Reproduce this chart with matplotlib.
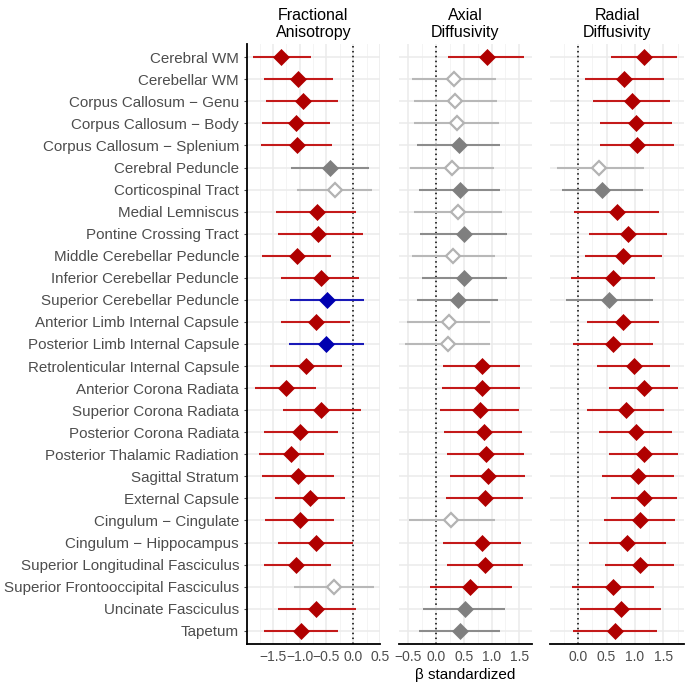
import numpy as np
import matplotlib
matplotlib.use('Agg')
import matplotlib.pyplot as plt
from matplotlib.ticker import MultipleLocator

plt.rcParams['font.family'] = ['Liberation Sans', 'DejaVu Sans']

tracts = ['Cerebral WM', 'Cerebellar WM', 'Corpus Callosum \u2212 Genu',
          'Corpus Callosum \u2212 Body', 'Corpus Callosum \u2212 Splenium',
          'Cerebral Peduncle', 'Corticospinal Tract', 'Medial Lemniscus',
          'Pontine Crossing Tract', 'Middle Cerebellar Peduncle',
          'Inferior Cerebellar Peduncle', 'Superior Cerebellar Peduncle',
          'Anterior Limb Internal Capsule', 'Posterior Limb Internal Capsule',
          'Retrolenticular Internal Capsule', 'Anterior Corona Radiata',
          'Superior Corona Radiata', 'Posterior Corona Radiata',
          'Posterior Thalamic Radiation', 'Sagittal Stratum', 'External Capsule',
          'Cingulum \u2212 Cingulate', 'Cingulum \u2212 Hippocampus',
          'Superior Longitudinal Fasciculus', 'Superior Frontooccipital Fasciculus',
          'Uncinate Fasciculus', 'Tapetum']

# Fractional Anisotropy
fa_est = [-1.34, -1.03, -0.94, -1.075, -1.05, -0.44, -0.34, -0.68, -0.65, -1.05,
          -0.61, -0.49, -0.69, -0.50, -0.88, -1.26, -0.60, -0.99, -1.16, -1.04,
          -0.81, -1.00, -0.69, -1.06, -0.36, -0.69, -0.975]
fa_lo = [-1.875, -1.675, -1.625, -1.71, -1.72, -1.16, -1.05, -1.45, -1.40, -1.71,
         -1.34, -1.175, -1.34, -1.20, -1.56, -1.84, -1.32, -1.67, -1.76, -1.71,
         -1.46, -1.64, -1.41, -1.675, -1.11, -1.41, -1.675]
fa_hi = [-0.78, -0.375, -0.275, -0.425, -0.40, 0.29, 0.36, 0.06, 0.19, -0.41,
         0.11, 0.21, -0.06, 0.21, -0.21, -0.70, 0.14, -0.29, -0.54, -0.36,
         -0.16, -0.36, 0.00, -0.41, 0.39, 0.06, -0.275]
fa_grp = ['r', 'r', 'r', 'r', 'r', 'g', 'o', 'r', 'r', 'r', 'r', 'b', 'r', 'b',
          'r', 'r', 'r', 'r', 'r', 'r', 'r', 'r', 'r', 'r', 'o', 'r', 'r']

# Axial Diffusivity
ad_est = [0.91, 0.32, 0.35, 0.37, 0.41, 0.28, 0.44, 0.39, 0.51, 0.31, 0.50, 0.39,
          0.23, 0.21, 0.83, 0.82, 0.79, 0.86, 0.90, 0.94, 0.88, 0.27, 0.83, 0.88,
          0.62, 0.53, 0.43]
ad_lo = [0.22, -0.43, -0.40, -0.40, -0.34, -0.47, -0.30, -0.39, -0.28, -0.44,
         -0.26, -0.34, -0.52, -0.55, 0.13, 0.11, 0.08, 0.15, 0.20, 0.25, 0.18,
         -0.48, 0.13, 0.19, -0.10, -0.23, -0.30]
ad_hi = [1.58, 1.08, 1.10, 1.13, 1.16, 1.04, 1.16, 1.18, 1.28, 1.06, 1.28, 1.11,
         0.98, 0.97, 1.52, 1.52, 1.50, 1.55, 1.58, 1.61, 1.56, 1.06, 1.53, 1.56,
         1.36, 1.25, 1.16]
ad_grp = ['r', 'o', 'o', 'o', 'g', 'o', 'g', 'o', 'g', 'o', 'g', 'g', 'o', 'o',
          'r', 'r', 'r', 'r', 'r', 'r', 'r', 'o', 'r', 'r', 'r', 'g', 'g']

# Radial Diffusivity
rd_est = [1.16, 0.80, 0.95, 1.02, 1.04, 0.36, 0.42, 0.68, 0.87, 0.79, 0.61, 0.54,
          0.79, 0.61, 0.98, 1.16, 0.85, 1.01, 1.16, 1.06, 1.16, 1.09, 0.86, 1.08,
          0.62, 0.76, 0.65]
rd_lo = [0.57, 0.11, 0.26, 0.39, 0.39, -0.38, -0.29, -0.07, 0.19, 0.11, -0.13,
         -0.21, 0.16, -0.09, 0.33, 0.55, 0.16, 0.37, 0.54, 0.42, 0.57, 0.46, 0.19,
         0.47, -0.11, 0.03, -0.09]
rd_hi = [1.74, 1.51, 1.62, 1.65, 1.69, 1.16, 1.14, 1.42, 1.56, 1.48, 1.35, 1.32,
         1.42, 1.31, 1.61, 1.75, 1.52, 1.65, 1.75, 1.69, 1.74, 1.71, 1.55, 1.68,
         1.34, 1.45, 1.38]
rd_grp = ['r', 'r', 'r', 'r', 'r', 'o', 'g', 'r', 'r', 'r', 'r', 'g', 'r', 'r',
          'r', 'r', 'r', 'r', 'r', 'r', 'r', 'r', 'r', 'r', 'r', 'r', 'r']

panels = [('Fractional\nAnisotropy', fa_est, fa_lo, fa_hi, fa_grp, (-1.99, 0.50), [-1.5, -1.0, -0.5, 0.0, 0.5]),
          ('Axial\nDiffusivity', ad_est, ad_lo, ad_hi, ad_grp, (-0.66, 1.72), [-0.5, 0.0, 0.5, 1.0, 1.5]),
          ('Radial\nDiffusivity', rd_est, rd_lo, rd_hi, rd_grp, (-0.49, 1.86), [0.0, 0.5, 1.0, 1.5])]

line_col = {'r': '#C41A1A', 'b': '#1A1AB8', 'g': '#8C8C8C', 'o': '#B8B8B8'}
pt_col = {'r': '#B00000', 'b': '#0000B0', 'g': '#7F7F7F', 'o': '#B3B3B3'}

fig = plt.figure(figsize=(6.85, 6.83), dpi=100)
lefts = [0.3601, 0.5829, 0.8036]
widths = [0.1946, 0.1931, 0.1946]
n = len(tracts)
y = np.arange(n)

for k, (title, est, lo, hi, grp, lim, ticks) in enumerate(panels):
    ax = fig.add_axes([lefts[k], 0.0571, widths[k], 0.8785])
    ax.set_xlim(*lim)
    ax.set_ylim(n - 0.4, -0.6)
    ax.xaxis.set_major_locator(MultipleLocator(0.5))
    ax.xaxis.set_minor_locator(MultipleLocator(0.25))
    ax.set_xticks(ticks)
    ax.grid(True, which='major', axis='both', color='#EBEBEB', lw=1.1, zorder=0)
    ax.grid(True, which='minor', axis='x', color='#F2F2F2', lw=0.6, zorder=0)
    ax.set_axisbelow(True)
    ax.axvline(0, color='black', ls=(0, (1, 2.2)), lw=1.1, zorder=1)
    for i in range(n):
        g = grp[i]
        ax.plot([lo[i], hi[i]], [i, i], color=line_col[g], lw=1.5, zorder=2,
                solid_capstyle='butt')
        if g == 'o':
            ax.plot(est[i], i, marker='D', ms=7.3, mfc='white', mec=pt_col[g],
                    mew=1.6, zorder=3)
        else:
            ax.plot(est[i], i, marker='D', ms=8.2, mfc=pt_col[g], mec=pt_col[g],
                    mew=0.5, zorder=3)
    for s in ['top', 'right', 'left']:
        ax.spines[s].set_visible(False)
    ax.spines['bottom'].set_color('black')
    ax.spines['bottom'].set_linewidth(1.3)
    ax.tick_params(axis='x', which='both', length=0, labelsize=10, colors='#4D4D4D', pad=4)
    ax.set_title(title, fontsize=11.5, color='black', pad=5, linespacing=1.2)
    if k == 0:
        ax.spines['left'].set_visible(True)
        ax.spines['left'].set_color('black')
        ax.spines['left'].set_linewidth(1.3)
        ax.set_yticks(y)
        ax.set_yticklabels(tracts)
        ax.tick_params(axis='y', length=2.5, color='#4D4D4D', labelsize=10.9,
                       labelcolor='#4D4D4D', pad=3)
    else:
        ax.set_yticks(y)
        ax.set_yticklabels([])
        ax.tick_params(axis='y', length=0)
    if k == 1:
        ax.set_xlabel('\u03b2 standardized', fontsize=11, color='black', labelpad=3)

fig.savefig('out.png', dpi=100)
